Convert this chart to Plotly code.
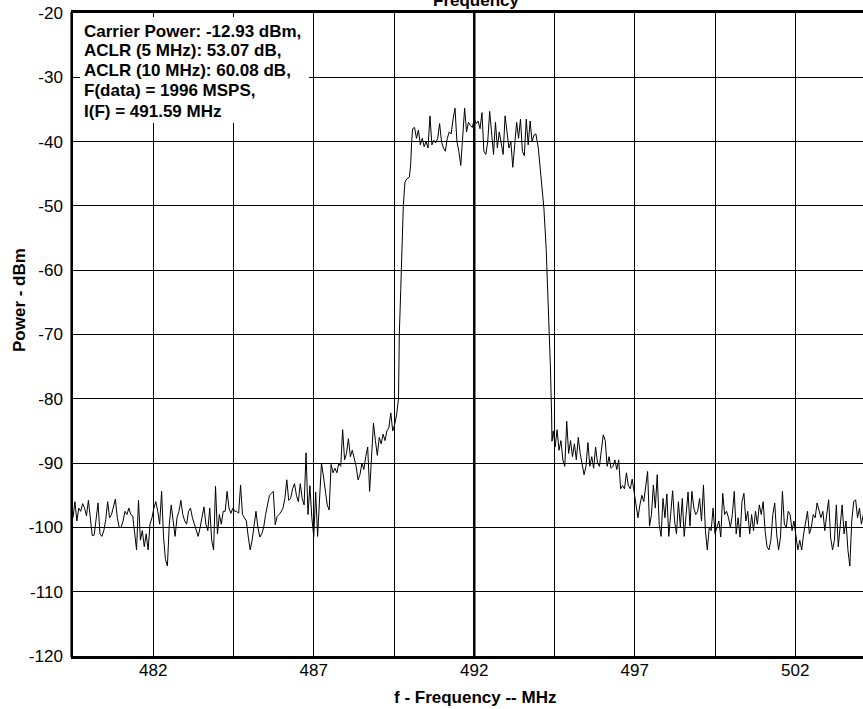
import numpy as np
import plotly.graph_objects as go

# ---------------- data ----------------
f_step = 0.06  # MHz between samples in the uniformly sampled segments

left_floor_start = 479.50
left_floor_dbm = [
    -98.5, -96.0, -99.0, -97.0, -97.5, -96.3, -97.0, -98.2, -95.8, -98.5,
    -101.3, -101.2, -99.0, -96.2, -101.0, -101.4, -100.5, -98.8, -96.0, -98.5,
    -98.0, -97.0, -95.6, -98.5, -100.0, -100.0, -99.0, -97.5, -98.0, -97.0,
    -98.0, -98.2, -101.0, -103.5, -95.8, -102.0, -100.5, -103.0, -101.0, -103.5,
    -99.5, -98.5, -97.0, -96.0, -97.5, -99.5, -94.4, -101.5, -105.0, -106.0,
    -99.5, -96.5, -99.0, -101.4, -98.5, -97.5, -95.8, -98.0, -99.0, -99.5,
    -97.5, -97.0, -98.5, -99.5, -100.5, -101.4, -100.0, -98.5, -96.8, -99.5,
    -100.5, -97.0, -102.0, -103.5, -93.6, -101.0, -98.0, -99.5, -97.5, -97.5,
    -94.4, -97.0, -97.8, -97.0, -97.5, -97.5, -97.8, -93.4, -98.0, -98.5,
    -99.0, -101.5, -103.5, -102.0, -99.5, -97.5, -100.0, -101.5, -101.0, -100.0,
    -98.0, -96.5, -95.0, -94.7,
]

left_skirt_start = 485.74
left_skirt_dbm = [
    -94.4, -99.6, -98.3, -98.0, -97.6, -97.0, -95.5, -92.6, -95.8, -95.5,
    -94.0, -93.2, -95.0, -96.0, -93.2, -95.5, -96.5, -88.4, -98.0, -93.5,
    -98.5, -101.4, -94.5, -101.4, -96.0, -90.0, -92.0, -94.5, -96.5, -97.3,
    -90.2, -91.5, -90.8, -91.5, -90.0, -90.5, -84.8, -89.5, -88.5, -86.2,
    -89.0, -88.0, -89.2, -90.5, -92.6, -91.8, -90.0, -91.0, -89.0, -87.5,
    -94.4, -88.0, -83.8, -86.5, -88.8, -86.0, -87.0, -85.5, -86.5, -85.0,
    -84.5, -82.2, -85.0, -84.0, -82.5, -80.0,
]

rise_freq = [489.665, 489.71, 489.75, 489.79, 489.84, 489.90, 489.98, 490.02, 490.05]
rise_dbm = [-70.0, -63.0, -56.0, -50.0, -46.3, -45.8, -45.5, -43.5, -40.0]

passband_start = 490.08
passband_dbm = [
    -38.0, -37.8, -39.5, -38.2, -40.5, -39.5, -40.8, -40.0, -41.0, -36.0,
    -40.5, -39.8, -40.2, -39.5, -37.2, -40.0, -41.0, -41.5, -39.5, -38.5,
    -38.8, -36.5, -34.8, -40.0, -41.5, -43.7, -39.0, -34.8, -38.5, -37.0,
    -37.5, -37.8, -36.5, -37.2, -36.8, -38.0, -35.5, -41.5, -42.0, -40.0,
    -35.3, -38.5, -42.0, -37.0, -41.0, -38.5, -40.5, -42.0, -36.0, -38.5,
    -41.0, -40.0, -44.0, -40.5, -37.0, -39.5, -36.5, -41.5, -42.2, -36.5,
    -40.5, -36.8, -40.0, -39.0, -38.8,
]

fall_freq = [493.995, 494.10, 494.17, 494.24, 494.29, 494.34, 494.37, 494.41, 494.42]
fall_dbm = [-41.0, -47.3, -50.4, -56.6, -62.8, -69.6, -74.7, -82.5, -86.6]

right_skirt_start = 494.46
right_skirt_dbm = [
    -85.0, -87.5, -84.8, -88.0, -86.5, -89.5, -90.5, -83.5, -88.5, -86.5,
    -89.0, -87.0, -89.5, -86.0, -88.5, -90.0, -91.8, -90.5, -86.8, -90.5,
    -89.0, -90.8, -87.5, -90.0, -90.5, -88.0, -85.6, -86.5, -90.5, -89.0,
    -90.8, -90.5, -89.5, -91.0, -89.5, -94.0, -93.5, -94.0, -91.5, -93.5,
    -94.0, -92.5, -94.5, -96.0, -98.5, -96.5, -95.0, -96.0, -94.0, -91.3,
    -99.8, -98.0, -93.4, -97.0, -91.8, -99.5, -101.4, -95.5, -98.5, -94.8,
    -101.4, -97.0, -94.3, -99.0, -101.0, -96.0, -100.0, -95.5, -101.4, -98.0,
    -94.5, -99.8, -94.4, -97.0, -98.0, -97.5, -95.5, -99.0, -93.4, -100.5,
    -103.5, -100.0,
]

right_floor_start = 499.38
right_floor_dbm = [
    -100.5, -97.0, -101.0, -100.0, -99.0, -101.5, -94.7, -98.0, -97.5, -98.5,
    -100.0, -98.0, -94.4, -101.0, -98.5, -101.5, -96.0, -94.7, -99.0, -97.5,
    -101.0, -98.0, -100.5, -97.5, -99.5, -96.5, -98.0, -96.0, -100.5, -103.0,
    -103.5, -102.0, -98.0, -96.2, -101.0, -103.5, -101.5, -94.4, -99.5, -100.0,
    -97.5, -98.0, -100.5, -99.0, -101.5, -103.5, -102.0, -103.5, -101.0, -99.0,
    -97.5, -101.0, -100.0, -98.0, -98.5, -96.2, -97.5, -98.5, -97.5, -100.5,
    -98.0, -95.7, -101.5, -103.5, -102.0, -96.5, -103.0, -100.0, -96.5, -101.0,
    -99.0, -103.5, -106.0, -99.0, -96.0, -95.7, -98.5, -97.0, -99.5, -98.0,
    -99.0,
]

x_tick_vals = [482, 487, 492, 497, 502]
x_minor_grid = [484.5, 489.5, 494.5, 499.5]
y_tick_vals = [-120, -110, -100, -90, -80, -70, -60, -50, -40, -30, -20]
center_freq = 492
x_range = [479.5, 504.11]
y_range = [-120, -20]

title_text = "Frequency"
x_title = "f - Frequency -- MHz"
y_title = "Power - dBm"
info_lines = [
    "Carrier Power: -12.93 dBm,",
    "ACLR (5 MHz): 53.07 dB,",
    "ACLR (10 MHz): 60.08 dB,",
    "F(data) = 1996 MSPS,",
    "I(F) = 491.59 MHz",
]


def grid(start, values):
    return list(np.round(start + f_step * np.arange(len(values)), 3))


freq = (grid(left_floor_start, left_floor_dbm) + grid(left_skirt_start, left_skirt_dbm)
        + rise_freq + grid(passband_start, passband_dbm) + fall_freq
        + grid(right_skirt_start, right_skirt_dbm) + grid(right_floor_start, right_floor_dbm))
power = (left_floor_dbm + left_skirt_dbm + rise_dbm + passband_dbm + fall_dbm
         + right_skirt_dbm + right_floor_dbm)

# ---------------- layout geometry (pixels) ----------------
W, H = 863, 709
L, R, T, B = 73, 0, 13, 53
PW, PH = W - L - R, H - T - B


def px(xp):
    return (xp - L) / PW


def py(yp):
    return (H - B - yp) / PH


FONT = "Liberation Sans, Arial, sans-serif"

fig = go.Figure()
fig.add_trace(go.Scatter(x=freq, y=power, mode="lines",
                         line=dict(color="black", width=1), hoverinfo="skip"))

fig.update_layout(
    width=W, height=H,
    margin=dict(l=L, r=R, t=T, b=B, pad=0),
    paper_bgcolor="white", plot_bgcolor="white",
    showlegend=False,
    font=dict(family=FONT, size=17, color="black"),
)

fig.update_xaxes(
    range=x_range, tickvals=x_tick_vals, ticktext=[str(v) for v in x_tick_vals],
    showgrid=True, gridcolor="black", gridwidth=1,
    minor=dict(tickvals=x_minor_grid, showgrid=True, gridcolor="black", gridwidth=1, ticks=""),
    showline=True, linecolor="black", linewidth=2.5, mirror=True,
    ticks="", ticklabelstandoff=-3,
    tickfont=dict(family=FONT, size=17, color="black"),
    zeroline=False,
)
fig.update_yaxes(
    range=y_range, tickvals=y_tick_vals, ticktext=[str(v) for v in y_tick_vals],
    showgrid=True, gridcolor="black", gridwidth=1,
    showline=True, linecolor="black", linewidth=1.5,
    ticks="", ticklabelstandoff=5,
    tickfont=dict(family=FONT, size=17, color="black"),
    zeroline=False,
)

# thick centre line
fig.add_shape(type="line", xref="x", yref="paper", x0=center_freq, x1=center_freq,
              y0=0, y1=1, line=dict(color="black", width=2.5), layer="above")
# second (outer) left border line
fig.add_shape(type="line", xref="paper", yref="paper", x0=px(70.5), x1=px(70.5),
              y0=py(657), y1=py(12), line=dict(color="#666666", width=1), layer="above")
# white box behind info text
fig.add_shape(type="rect", xref="paper", yref="paper", x0=px(80), x1=px(309),
              y0=py(123), y1=py(17), fillcolor="white", line=dict(width=0), layer="above")

line_centers = [31, 51, 71, 91, 111]
for txt, yc in zip(info_lines, line_centers):
    fig.add_annotation(xref="paper", yref="paper", x=px(82), y=py(yc),
                       xanchor="left", yanchor="middle", showarrow=False,
                       text="<b>" + txt + "</b>", font=dict(family=FONT, size=17, color="black"))

# title (cut off at top of the image, as in the reference)
fig.add_annotation(xref="paper", yref="paper", x=px(476), y=py(1),
                   xanchor="center", yanchor="middle", showarrow=False,
                   text="<b>" + title_text + "</b>", font=dict(family=FONT, size=17, color="black"))
# x axis title
fig.add_annotation(xref="paper", yref="paper", x=px(475), y=py(697),
                   xanchor="center", yanchor="middle", showarrow=False,
                   text="<b>" + x_title + "</b>", font=dict(family=FONT, size=17, color="black"))
# y axis title
fig.add_annotation(xref="paper", yref="paper", x=px(19), y=py(300),
                   xanchor="center", yanchor="middle", showarrow=False, textangle=-90,
                   text="<b>" + y_title + "</b>", font=dict(family=FONT, size=17, color="black"))

fig.write_html("out.html")
